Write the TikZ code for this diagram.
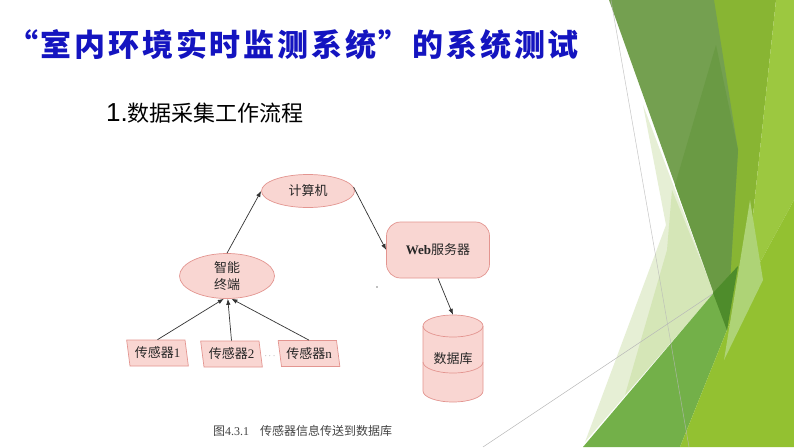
\documentclass[tikz,border=0pt]{standalone}
\usepackage{fontspec}
\setmainfont{Liberation Serif}
\newfontfamily\cjk{Noto Sans CJK SC}
\newfontfamily\cjktitle[LetterSpace=9]{Noto Sans CJK SC}
\newfontfamily\lsans{Liberation Sans}
\usetikzlibrary{shapes.geometric,arrows.meta}
\definecolor{titleblue}{HTML}{1414C0}
\definecolor{pinkfill}{HTML}{F9D6D2}
\definecolor{pinkline}{HTML}{E39590}
\definecolor{arrowc}{HTML}{333333}
\definecolor{captgray}{HTML}{444444}
\definecolor{gDark}{HTML}{74A050}
\definecolor{gDarker}{HTML}{6A9A44}
\definecolor{gBand}{HTML}{88B533}
\definecolor{gStrip}{HTML}{9CC840}
\definecolor{gYellow}{HTML}{93C131}
\definecolor{gMed}{HTML}{73B049}
\definecolor{gSliver}{HTML}{4E8C2B}
\definecolor{paleA}{HTML}{E6EFD5}
\definecolor{paleB}{HTML}{D5E6B7}
\definecolor{lime}{HTML}{AED376}
\definecolor{themeline}{HTML}{B8B8B8}
\begin{document}
\begin{tikzpicture}[x=1pt,y=-1pt,
  dtext/.style={font=\cjk\fontsize{13}{17}\selectfont, text=black!85},
  ell/.style={ellipse, draw=pinkline, fill=pinkfill, line width=0.7pt, inner sep=0pt, dtext},
  rbox/.style={rectangle, rounded corners=14pt, draw=pinkline, fill=pinkfill, line width=0.7pt, inner sep=0pt, dtext},
  sensor/.style={trapezium, trapezium left angle=103, trapezium right angle=77, trapezium stretches=true,
     minimum width=62pt, minimum height=26pt, draw=pinkline, fill=pinkfill, line width=0.7pt, inner sep=0pt, dtext},
  arr/.style={draw=arrowc, line width=0.7pt, -{Latex[length=6pt,width=4.5pt]}},
  thin/.style={draw=themeline, line width=0.5pt}
]
\useasboundingbox (0,0) rectangle (794,447);
\fill[white] (0,0) rectangle (794,447);

% ---- theme decoration (right side) ----
\fill[paleA] (643,105) -- (714,293) -- (585,442) -- (666,225) -- cycle;
\fill[paleB] (672,190) -- (714,293) -- (625,395) -- (667,250) -- cycle;
\draw[thin] (483,447) -- (720,289);
\fill[gMed] (583,447) -- (740,262) -- (727,330) -- (680,447) -- cycle;
\fill[gBand] (700,0) -- (776,0) -- (745,290) -- (727,330) -- cycle;
\fill[gStrip] (776,0) -- (794,0) -- (794,200) -- (745,290) -- cycle;
\fill[gYellow] (680,447) -- (727,330) -- (745,290) -- (794,200) -- (794,447) -- cycle;
\fill[lime] (750,200) -- (763,280) -- (724,360) -- cycle;
\fill[gDark] (609,0) -- (714,0) -- (738,150) -- (727,330) -- cycle;
\fill[gDarker] (716,45) -- (738,150) -- (727,330) -- (675,185) -- cycle;
\fill[gSliver] (713,293) -- (738,266) -- (727,330) -- cycle;
\draw[thin, opacity=0.8] (611,0) -- (689,447);

% ---- titles ----
\node[anchor=west, inner sep=0pt, text=titleblue, font=\cjktitle\bfseries\fontsize{31}{31}\selectfont] (title) at (7,45)
  {“室内环境实时监测系统”的系统测试};
\node[anchor=west, inner sep=0pt] (head) at (106,113)
  {{\lsans\fontsize{26}{26}\selectfont 1.}{\cjk\fontsize{22}{22}\selectfont 数据采集工作流程}};

% ---- diagram ----
\node[ell, minimum width=93pt, minimum height=33pt] (jsj) at (308,191) {计算机};
\node[rbox, minimum width=103pt, minimum height=56pt] (web) at (438,250) {{\rmfamily\bfseries Web}服务器};
\node[ell, minimum width=95pt, minimum height=45pt, align=center] (zn) at (227,276) {智能\\终端};
\node[sensor] (s1) at (157.5,353) {传感器{\rmfamily 1}};
\node[sensor] (s2) at (231.5,354) {传感器{\rmfamily 2}};
\node[sensor] (sn) at (309,353.5) {传感器{\rmfamily n}};
\node[text=gray, font=\fontsize{9}{9}\selectfont, inner sep=0pt] (dots) at (270,356) {$\cdots$};

% database cylinder
\fill[pinkfill] (423,326) -- (423,391) arc[start angle=180, end angle=0, x radius=30, y radius=11]
   -- (483,326) arc[start angle=0, end angle=-180, x radius=30, y radius=11] -- cycle;
\draw[pinkline, line width=0.7pt] (423,326) -- (423,391) arc[start angle=180, end angle=0, x radius=30, y radius=11] -- (483,326);
\draw[pinkline, line width=0.7pt] (453,326) ellipse[x radius=30, y radius=11];
\draw[pinkline, line width=0.7pt] (423,362) arc[start angle=180, end angle=0, x radius=30, y radius=11];
\node[dtext, minimum width=60pt, minimum height=87pt, inner sep=0pt] (db) at (453,358.5) {数据库};

\fill[gray] (377,287) circle[radius=0.8];

% connectors
\draw[arr] (zn.north) -- (jsj.west);
\draw[arr] (jsj.5) -- (web.west);
\draw[arr] (web.south) -- (db.north);
\draw[arr] (s1.north) -- (zn.262);
\draw[arr] (s2.north) -- (zn.272);
\draw[arr] (sn.north) -- (zn.281);

% caption
\node[anchor=west, inner sep=0pt, text=captgray, font=\cjk\fontsize{12}{12}\selectfont] (cap) at (213,431)
  {图{\rmfamily 4.3.1}\hspace{11pt}传感器信息传送到数据库};
\end{tikzpicture}
\end{document}
